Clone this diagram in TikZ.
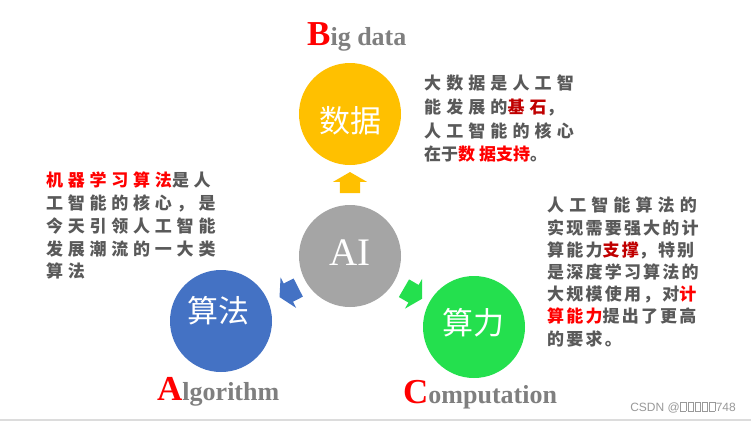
\documentclass[tikz,border=0pt]{standalone}
\usepackage{fontspec}
\usepackage{xcolor}
\setmainfont{Liberation Serif}
\newfontfamily\cjk{Noto Sans CJK SC}
\newfontfamily\cjkwide[LetterSpace=30]{Noto Sans CJK SC}
\newfontfamily\cjkleft[LetterSpace=28]{Noto Sans CJK SC}
\newfontfamily\cjkmid[LetterSpace=13]{Noto Sans CJK SC}
\newfontfamily\markfont{Liberation Sans}
\usetikzlibrary{shapes.arrows}
\definecolor{datayellow}{HTML}{FFC000}
\definecolor{aigray}{HTML}{A5A5A5}
\definecolor{algoblue}{HTML}{4472C4}
\definecolor{compgreen}{HTML}{24E04E}
\definecolor{bodygray}{HTML}{595959}
\definecolor{labelgray}{HTML}{7F7F7F}
\definecolor{keyred}{HTML}{FF0000}
\definecolor{darkred}{HTML}{C00000}
\definecolor{bandgray}{HTML}{DCDCDC}
\definecolor{markgray}{HTML}{999999}
\tikzset{
  core-circle/.style={circle, minimum size=102pt, inner sep=0pt},
  circle-text/.style={text=white, inner sep=0pt, font=\cjk\fontsize{31pt}{31pt}\selectfont},
  block-arrow/.style={single arrow, inner sep=0pt, minimum height=21pt,
    single arrow head extend=7pt, single arrow tip angle=120},
  desc-text/.style={anchor=north west, align=left, inner sep=0pt, text=bodygray},
  title-label/.style={anchor=base west, inner sep=0pt, text=labelgray,
    font=\bfseries\fontsize{26pt}{26pt}\selectfont}
}
\newcommand{\bigred}[1]{\textcolor{keyred}{\fontsize{35pt}{35pt}\selectfont #1}}
\newcommand{\shaft}{\rule{0pt}{20pt}}
\newcommand{\tofu}{{\fboxsep=0pt\fboxrule=0.5pt\kern0.6pt\fbox{\rule{0pt}{8.5pt}\hspace{5pt}}\kern0.6pt}}

\begin{document}
\begin{tikzpicture}[x=1pt, y=-1pt]
\useasboundingbox (0,0) rectangle (751,421);
\fill[white] (0,0) rectangle (751,421);
% Bottom band
\fill[bandgray] (0,418.5) rectangle (751,421);

% Circles
\node[core-circle, fill=datayellow] (data) at (350,114) {};
\node[core-circle, fill=aigray] (ai) at (350,256) {};
\node[core-circle, fill=algoblue] (algo) at (221,321) {};
\node[core-circle, fill=compgreen] (comp) at (474,327) {};

% Circle texts
\node[circle-text] (datatext) at (350,121) {数据};
\node[circle-text, font=\fontsize{39pt}{39pt}\selectfont] (aitext) at (350,253) {AI};
\node[circle-text] (algotext) at (218,311) {算法};
\node[circle-text] (comptext) at (473,323) {算力};

% Arrows out of AI
\node[block-arrow, fill=datayellow, rotate=90] (uparrow) at (350,185.5) {\shaft};
\node[block-arrow, fill=algoblue, rotate=207] (leftarrow) at (291.5,291) {\shaft};
\node[block-arrow, fill=compgreen, rotate=-30] (rightarrow) at (410.5,292) {\shaft};

% Labels
\node[title-label] (bigdata) at (307,45) {\bigred{B}ig data};
\node[title-label] (algorithm) at (157,400) {\bigred{A}lgorithm};
\node[title-label] (computation) at (403,403) {\bigred{C}omputation};

% Descriptions
\node[desc-text, font=\cjkwide\bfseries\fontsize{17pt}{23.7pt}\selectfont] (datadesc) at (424,75)
  {大数据是人工智\\能发展的\textcolor{darkred}{基石}，\\人工智能的核心\\\cjk 在于\textcolor{keyred}{数 据支持}。};
\node[desc-text, font=\cjkleft\bfseries\fontsize{17pt}{22.7pt}\selectfont] (algodesc) at (46,172)
  {\textcolor{keyred}{机器学习算法}是人\\工智能的核心，是\\今天引领人工智能\\发展潮流的一大类\\算法};
\node[desc-text, font=\cjkmid\bfseries\fontsize{17pt}{22.2pt}\selectfont] (compdesc) at (547,197)
  {\cjkwide 人工智能算法的\\实现需要强大的计\\算能力\textcolor{darkred}{支撑}，特别\\是深度学习算法的\\大规模使用，对\textcolor{keyred}{计}\\\textcolor{keyred}{算能力}提出了更高\\的要求。};

% Watermark
\node[anchor=base east, inner sep=0pt, text=markgray, font=\markfont\fontsize{12pt}{12pt}\selectfont] (mark) at (736,411)
  {CSDN @\tofu\tofu\tofu\tofu\tofu 748};
\end{tikzpicture}
\end{document}
